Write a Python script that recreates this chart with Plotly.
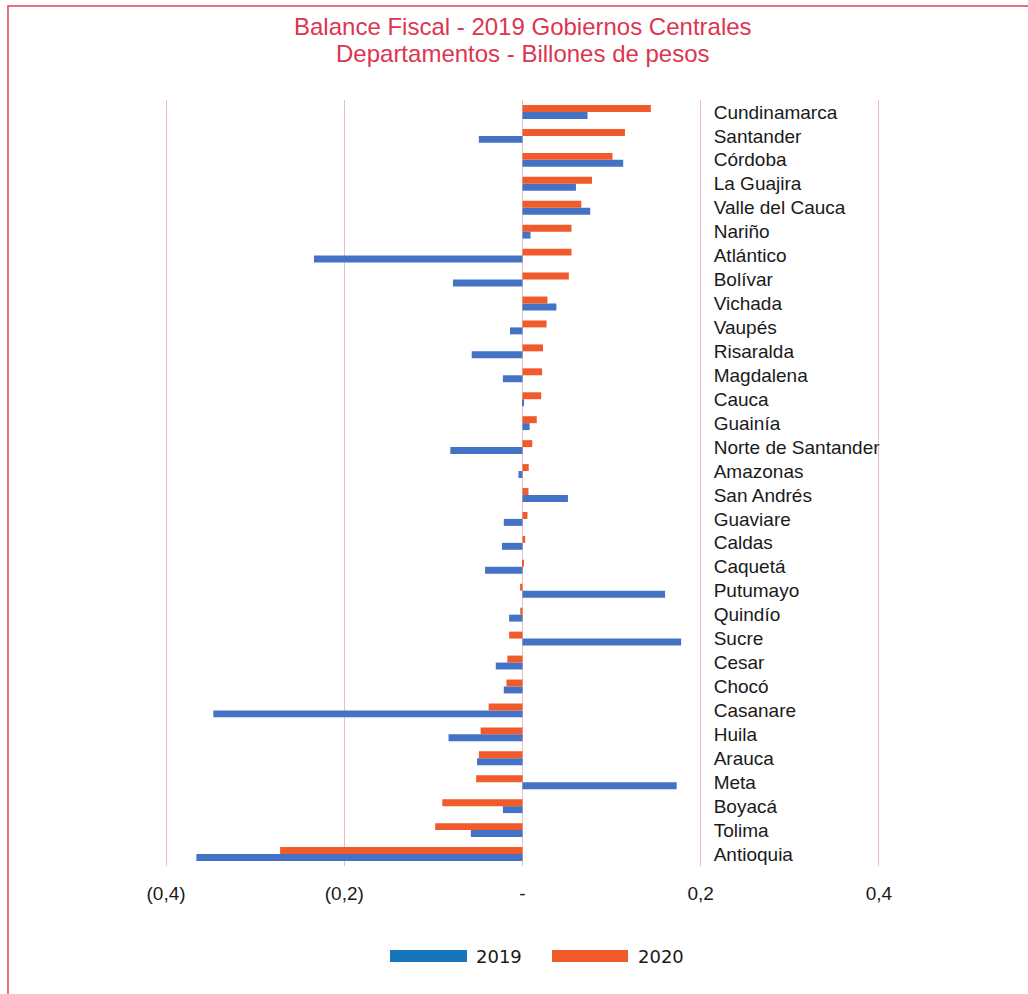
import plotly.graph_objects as go

# Departments, listed top to bottom as they appear in the chart
departamentos = [
    "Cundinamarca", "Santander", "Córdoba", "La Guajira", "Valle del Cauca",
    "Nariño", "Atlántico", "Bolívar", "Vichada", "Vaupés", "Risaralda",
    "Magdalena", "Cauca", "Guainía", "Norte de Santander", "Amazonas",
    "San Andrés", "Guaviare", "Caldas", "Caquetá", "Putumayo", "Quindío",
    "Sucre", "Cesar", "Chocó", "Casanare", "Huila", "Arauca", "Meta",
    "Boyacá", "Tolima", "Antioquia",
]

# Fiscal balance, billions of pesos
balance_2019 = [
    0.073, -0.049, 0.113, 0.060, 0.076,
    0.009, -0.234, -0.078, 0.038, -0.014, -0.057,
    -0.022, 0.0015, 0.008, -0.081, -0.0045,
    0.051, -0.021, -0.023, -0.042, 0.160, -0.015,
    0.178, -0.030, -0.021, -0.347, -0.083, -0.051, 0.173,
    -0.022, -0.058, -0.366,
]
balance_2020 = [
    0.144, 0.115, 0.101, 0.078, 0.066,
    0.055, 0.055, 0.052, 0.028, 0.027, 0.023,
    0.022, 0.021, 0.016, 0.011, 0.007,
    0.0067, 0.0056, 0.003, 0.0015, -0.0027, -0.0025,
    -0.015, -0.017, -0.018, -0.038, -0.047, -0.049, -0.052,
    -0.090, -0.098, -0.272,
]

series_names = ["2019", "2020"]
bar_colors = ["#4472C4", "#F15A2B"]
legend_colors = ["#1775BE", "#F15A2B"]

x_ticks = [-0.4, -0.2, 0, 0.2, 0.4]
x_tick_text = ["(0,4)", "(0,2)", "-", "0,2", "0,4"]

title_lines = ["Balance Fiscal - 2019 Gobiernos Centrales", "Departamentos - Billones de pesos"]

title_color = "#DD3550"
grid_color = "#E9BDC7"
font_family = "Liberation Sans, Arial, sans-serif"

fig = go.Figure()
for name, values, color in zip(series_names, [balance_2019, balance_2020], bar_colors):
    fig.add_trace(go.Bar(
        name=name,
        y=departamentos,
        x=values,
        orientation="h",
        marker=dict(color=color, line=dict(width=0)),
        showlegend=False,
    ))

# Two-line title
for text, ypos in zip(title_lines, [1.0966, 1.0601]):
    fig.add_annotation(xref="paper", yref="paper", x=0.5, y=ypos,
                       text=text, showarrow=False, xanchor="center", yanchor="middle",
                       font=dict(family=font_family, size=24, color=title_color))

# Custom wide-swatch legend below the axis
legend_items = [
    (0.3147, 0.4224, 0.4322),
    (0.5413, 0.6476, 0.6587),
]
for (x0, x1, xt), name, color in zip(legend_items, series_names, legend_colors):
    fig.add_shape(type="rect", xref="paper", yref="paper",
                  x0=x0, x1=x1, y0=-0.1253, y1=-0.1097,
                  fillcolor=color, line=dict(width=0))
    fig.add_annotation(xref="paper", yref="paper", x=xt, y=-0.1175,
                       text=name, showarrow=False, xanchor="left", yanchor="middle",
                       font=dict(family="DejaVu Sans, sans-serif", size=18, color="#1a1a1a"))

# Outer frame of the chart
fig.add_shape(type="rect", xref="paper", yref="paper",
              x0=-0.2196, x1=1.25, y0=-0.2, y1=1.1227,
              line=dict(color="#E0405A", width=1.5), fillcolor="rgba(0,0,0,0)",
              layer="below")

fig.update_layout(
    width=1028,
    height=994,
    margin=dict(l=165, r=148, t=100, b=128),
    paper_bgcolor="white",
    plot_bgcolor="white",
    barmode="group",
    bargap=0.42,
    bargroupgap=0,
    font=dict(family=font_family, color="#1a1a1a"),
    xaxis=dict(
        range=[-0.4012, 0.4012],
        tickvals=x_ticks,
        ticktext=x_tick_text,
        showgrid=True,
        gridcolor=grid_color,
        gridwidth=1,
        zeroline=True,
        zerolinecolor=grid_color,
        zerolinewidth=1,
        showline=False,
        ticks="outside",
        ticklen=10,
        tickcolor="rgba(0,0,0,0)",
        tickfont=dict(family=font_family, size=19, color="#1a1a1a"),
    ),
    yaxis=dict(
        type="category",
        categoryorder="array",
        categoryarray=departamentos[::-1],
        side="right",
        anchor="free",
        position=0.766,
        showgrid=False,
        zeroline=False,
        showline=False,
        ticks="",
        tickfont=dict(family=font_family, size=19, color="#1a1a1a"),
    ),
)

fig.write_html("out.html")
